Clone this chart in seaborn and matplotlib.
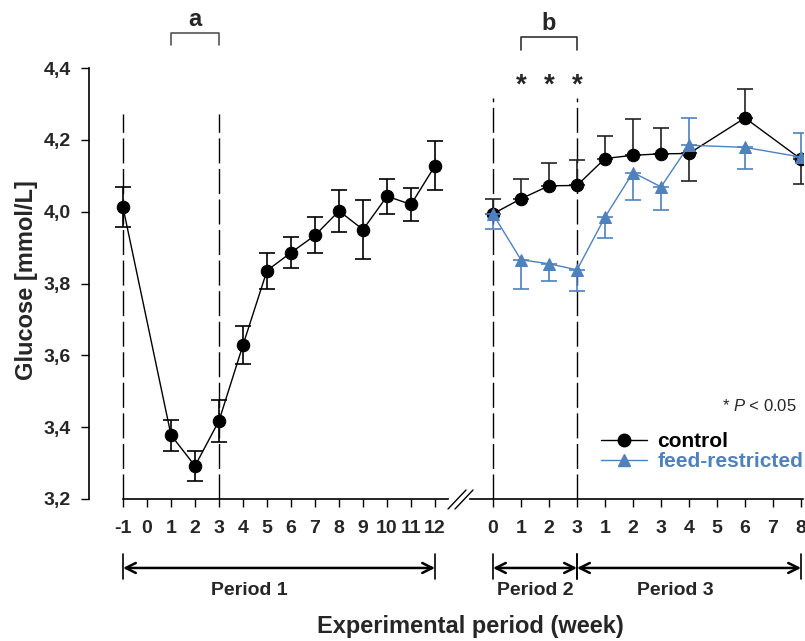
import numpy as np
import pandas as pd
import matplotlib
matplotlib.use("Agg")
import matplotlib.pyplot as plt
import seaborn as sns
from matplotlib.lines import Line2D
from matplotlib.transforms import blended_transform_factory

# ---------------- data ----------------
# Period 1 (control only)
p1_weeks = [-1, 1, 2, 3, 4, 5, 6, 7, 8, 9, 10, 11, 12]
p1_ctrl = [4.012, 3.378, 3.292, 3.418, 3.629, 3.836, 3.886, 3.934, 4.002, 3.950, 4.043, 4.020, 4.128]
p1_err = [0.056, 0.043, 0.042, 0.059, 0.052, 0.050, 0.043, 0.050, 0.058, 0.082, 0.049, 0.047, 0.068]
p1_tick_labels = ["-1", "0", "1", "2", "3", "4", "5", "6", "7", "8", "9", "10", "11", "12"]

# Periods 2 and 3
p23_period = [2, 2, 2, 2, 3, 3, 3, 3, 3, 3]
p23_week = [0, 1, 2, 3, 1, 2, 3, 4, 6, 8]
ctrl = [3.994, 4.036, 4.072, 4.073, 4.148, 4.157, 4.161, 4.162, 4.261, 4.146]
ctrl_err = [0.040, 0.054, 0.064, 0.072, 0.064, 0.100, 0.073, 0.077, 0.080, 0.068]
ctrl_dir = [1, 1, 1, 1, 1, 1, 1, -1, 1, -1]
feed = [3.993, 3.866, 3.855, 3.838, 3.985, 4.109, 4.069, 4.185, 4.179, 4.152]
feed_err = [0.041, 0.081, 0.047, 0.060, 0.059, 0.077, 0.064, 0.077, 0.059, 0.066]
feed_dir = [-1, -1, -1, -1, -1, -1, -1, 1, -1, 1]
p23_tick_labels = ["0", "1", "2", "3", "1", "2", "3", "4", "5", "6", "7", "8"]
signif_pos = [1, 2, 3]

y_ticks = [3.2, 3.4, 3.6, 3.8, 4.0, 4.2, 4.4]

# ---------------- style ----------------
sns.set_style("ticks")
plt.rcParams["font.family"] = ["Liberation Sans", "DejaVu Sans"]
plt.rcParams["mathtext.fontset"] = "custom"
plt.rcParams["mathtext.it"] = "Liberation Sans:italic"
plt.rcParams["mathtext.rm"] = "Liberation Sans"

BLUE = "#4F81BD"
BLACK = "black"

W, H = 805, 641
fig = plt.figure(figsize=(W / 100, H / 100), dpi=100)

def fx(px):
    return px / W

def fy(py):
    return (H - py) / H

y_bot, y_top = 499, 68
axL = fig.add_axes([fx(89), fy(y_bot), fx(448 - 89), (y_bot - y_top) / H])
axR = fig.add_axes([fx(470), fy(y_bot), fx(803 - 470), (y_bot - y_top) / H], sharey=axL)

# position of period 2/3 points on the right axis
p23_x = [w + (3 if p == 3 else 0) for p, w in zip(p23_period, p23_week)]

df1 = pd.DataFrame({"x": p1_weeks, "y": p1_ctrl, "group": "control"})
df2 = pd.DataFrame({
    "x": p23_x * 2,
    "y": ctrl + feed,
    "group": ["control"] * len(ctrl) + ["feed-restricted"] * len(feed),
})

ms = 9
# left axis
axL.errorbar(p1_weeks, p1_ctrl, yerr=p1_err, fmt="none", ecolor=BLACK,
             elinewidth=1.2, capsize=6, capthick=1.2, zorder=2)
sns.lineplot(data=df1, x="x", y="y", ax=axL, color=BLACK, lw=1.0,
             marker="o", markersize=ms, markeredgecolor=BLACK, legend=False, zorder=3)

# right axis
c_lo = [e if d < 0 else 0 for e, d in zip(ctrl_err, ctrl_dir)]
c_hi = [e if d > 0 else 0 for e, d in zip(ctrl_err, ctrl_dir)]
f_lo = [e if d < 0 else 0 for e, d in zip(feed_err, feed_dir)]
f_hi = [e if d > 0 else 0 for e, d in zip(feed_err, feed_dir)]
for xs, ys, lo, hi, col, z in [(p23_x, ctrl, c_lo, c_hi, "#222222", 2), (p23_x, feed, f_lo, f_hi, BLUE, 4)]:
    for xi, yi, l, h in zip(xs, ys, lo, hi):
        if l > 0:
            axR.errorbar([xi], [yi], yerr=[[l], [0]], fmt="none", ecolor=col,
                         elinewidth=1.2, capsize=6, capthick=1.2, zorder=z)
        if h > 0:
            axR.errorbar([xi], [yi], yerr=[[0], [h]], fmt="none", ecolor=col,
                         elinewidth=1.2, capsize=6, capthick=1.2, zorder=z)

sns.lineplot(data=df2[df2.group == "control"], x="x", y="y", ax=axR, color=BLACK, lw=1.0,
             marker="o", markersize=ms, markeredgecolor=BLACK, legend=False, zorder=3)
sns.lineplot(data=df2[df2.group == "feed-restricted"], x="x", y="y", ax=axR, color=BLUE, lw=1.0,
             marker="^", markersize=ms, markeredgecolor=BLUE, legend=False, zorder=5)

# dashed vertical lines
dash = (0, (18, 4))
for x in [-1, 3]:
    axL.plot([x, x], [3.2, 4.273], color=BLACK, lw=1.0, ls=dash, zorder=1)
for x in [0, 3]:
    axR.plot([x, x], [3.2, 4.316], color=BLACK, lw=1.0, ls=dash, zorder=1)

# axes formatting
TICK_FS = 14
axL.set_ylim(3.2, 4.4)
axL.set_xlim(-2.417, 12.54)
axR.set_xlim(-0.821, 11.07)
axL.set_yticks(y_ticks)
axL.set_yticklabels([f"{v:.1f}".replace(".", ",") for v in y_ticks], fontweight="bold", fontsize=TICK_FS)
axL.set_xticks(range(-1, 13))
axL.set_xticklabels(p1_tick_labels, fontweight="bold", fontsize=TICK_FS)
axR.set_xticks(range(0, 12))
axR.set_xticklabels(p23_tick_labels, fontweight="bold", fontsize=TICK_FS)
for ax in (axL, axR):
    ax.spines["top"].set_visible(False)
    ax.spines["right"].set_visible(False)
    ax.tick_params(axis="both", direction="out", length=6, width=1, color=BLACK)
    ax.tick_params(axis="x", pad=9)
    ax.tick_params(axis="y", pad=7)
    ax.spines["bottom"].set_linewidth(1.2)
    ax.spines["bottom"].set_color(BLACK)
    ax.set_xlabel("")
    ax.set_ylabel("")
axL.spines["left"].set_color(BLACK)
axL.spines["left"].set_linewidth(1.2)
axL.spines["bottom"].set_bounds(-1, 12.54)
axR.spines["left"].set_visible(False)
axR.tick_params(axis="y", left=False, labelleft=False)

fig.text(fx(26), fy(280), "Glucose [mmol/L]", fontsize=17, fontweight="bold",
         rotation=90, ha="center", va="center")
fig.text(fx(470), fy(627), "Experimental period (week)", fontsize=17, fontweight="bold",
         ha="center", va="center")

# break marks
for dx in (0, 7):
    fig.add_artist(Line2D([fx(448 + dx), fx(466 + dx)], [fy(509), fy(490)], color=BLACK, lw=1.0))

# period arrows
tL = blended_transform_factory(axL.transData, axL.transAxes)
tR = blended_transform_factory(axR.transData, axR.transAxes)
ya, yb0, yb1, yl = -0.160, -0.128, -0.186, -0.192
def period(ax, tr, x0, x1, label, xlab):
    ax.annotate("", xy=(x1, ya), xytext=(x0, ya), xycoords=tr, textcoords=tr,
                arrowprops=dict(arrowstyle="<->", lw=1.8, color=BLACK, mutation_scale=18,
                                shrinkA=0, shrinkB=0), annotation_clip=False)
    for x in (x0, x1):
        ax.plot([x, x], [yb0, yb1], transform=tr, color=BLACK, lw=1.2, clip_on=False)
    ax.text(xlab, yl, label, transform=tr, ha="center", va="top",
            fontsize=14, fontweight="bold")
period(axL, tL, -1, 12, "Period 1", 4.25)
period(axR, tR, 0, 3, "Period 2", 1.5)
period(axR, tR, 3, 11, "Period 3", 6.5)

# brackets a / b
axL.plot([1, 1, 3, 3], [4.464, 4.498, 4.498, 4.464], color="#555555", lw=1.2, clip_on=False)
axL.text(2, 4.517, "a", ha="center", va="baseline", fontsize=17, fontweight="bold")
axR.plot([1, 1, 3, 3], [4.45, 4.485, 4.485, 4.45], color="#333333", lw=1.2, clip_on=False)
axR.text(2, 4.505, "b", ha="center", va="baseline", fontsize=17, fontweight="bold")
for x in signif_pos:
    axR.text(x, 4.315, "*", ha="center", va="bottom", fontsize=20, fontweight="bold")

axR.text(10.85, 3.46, r"* $\it{P}$ < 0.05", ha="right", va="center", fontsize=12)

# legend
handles = [
    Line2D([], [], color=BLACK, lw=1.0, marker="o", markersize=ms, markeredgecolor=BLACK),
    Line2D([], [], color=BLUE, lw=1.0, marker="^", markersize=ms, markeredgecolor=BLUE),
]
leg = axR.legend(handles, ["control", "feed-restricted"], loc="lower left",
                 bbox_to_anchor=(0.35, 0.03), frameon=False, handlelength=2.2,
                 prop={"weight": "bold", "size": 15}, labelspacing=0.05, handletextpad=0.5,
                 borderaxespad=0.3)
for txt, col in zip(leg.get_texts(), [BLACK, BLUE]):
    txt.set_color(col)

fig.savefig("out.png", dpi=100)
